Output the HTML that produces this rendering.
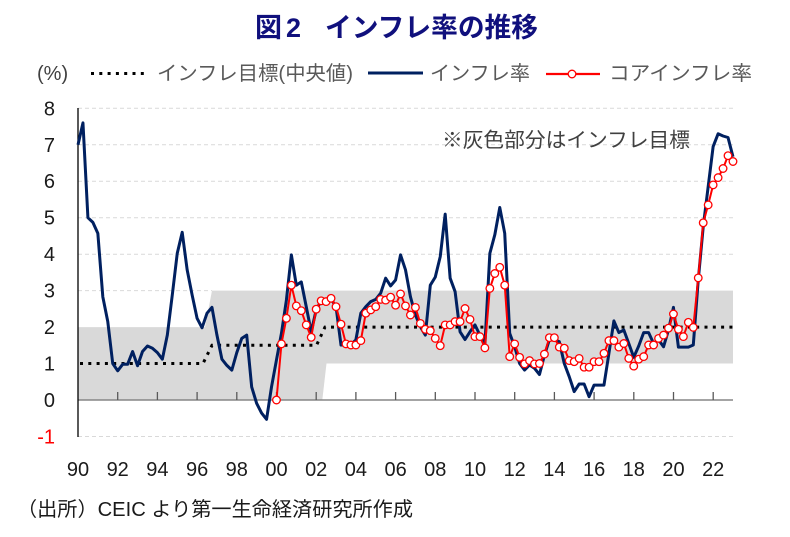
<!DOCTYPE html>
<html><head><meta charset="utf-8"><style>
html,body{margin:0;padding:0;background:#fff;}
svg{display:block;}
text{font-family:"Liberation Sans","Noto Sans CJK JP",sans-serif;}
</style></head><body>
<svg width="790" height="537" viewBox="0 0 790 537" xmlns="http://www.w3.org/2000/svg">
<defs>
<marker id="c" markerWidth="12" markerHeight="12" refX="6" refY="6" markerUnits="userSpaceOnUse" overflow="visible">
<circle cx="6" cy="6" r="3.8" fill="#fff" stroke="#ff0000" stroke-width="1.3"/>
</marker>
</defs>
<!-- title -->
<text x="255" y="37" font-size="27" font-weight="bold" fill="#10107d">図</text>
<text x="286" y="37" font-size="27" font-weight="bold" fill="#10107d">2</text>
<text x="325" y="37" font-size="27" font-weight="bold" fill="#10107d" textLength="213" lengthAdjust="spacingAndGlyphs">インフレ率の推移</text>
<!-- legend -->
<text x="37" y="80" font-size="20" fill="#404040">(%)</text>
<line x1="91" y1="73.5" x2="148" y2="73.5" stroke="#000" stroke-width="3" stroke-dasharray="3 5.3"/>
<text x="157" y="80" font-size="20" fill="#595959" textLength="196" lengthAdjust="spacingAndGlyphs">インフレ目標(中央値)</text>
<line x1="368" y1="73" x2="423" y2="73" stroke="#002060" stroke-width="3"/>
<text x="430" y="80" font-size="20" fill="#595959" textLength="100" lengthAdjust="spacingAndGlyphs">インフレ率</text>
<line x1="546" y1="74" x2="600" y2="74" stroke="#ff0000" stroke-width="2.2"/>
<circle cx="572" cy="74" r="3.8" fill="#fff" stroke="#ff0000" stroke-width="1.3"/>
<text x="609" y="80" font-size="20" fill="#595959" textLength="143" lengthAdjust="spacingAndGlyphs">コアインフレ率</text>
<!-- band -->
<polygon points="78,400 78,327.1 205,327.1 212,290.6 733,290.6 733,363.5 326.5,363.5 322.3,400" fill="#d9d9d9"/>
<!-- gridlines -->
<g stroke="#d9d9d9" stroke-width="1" stroke-dasharray="4 3">
<line x1="78" y1="108.3" x2="733" y2="108.3"/>
<line x1="78" y1="144.8" x2="733" y2="144.8"/>
<line x1="78" y1="181.2" x2="733" y2="181.2"/>
<line x1="78" y1="217.7" x2="733" y2="217.7"/>
<line x1="78" y1="254.2" x2="733" y2="254.2"/>
<line x1="78" y1="290.6" x2="212" y2="290.6"/>
<line x1="78" y1="436.5" x2="733" y2="436.5"/>
</g>
<!-- annotation -->
<text x="442" y="147" font-size="20.5" fill="#404040" textLength="248" lengthAdjust="spacingAndGlyphs">※灰色部分はインフレ目標</text>
<!-- target dotted -->
<polyline points="80,363.5 203,363.5 212,345.3 316.5,345.3 325,327.1 733,327.1" fill="none" stroke="#000" stroke-width="3" stroke-dasharray="3 5.3"/>
<!-- axes -->
<line x1="78" y1="400" x2="733" y2="400" stroke="#868686" stroke-width="1.5"/>
<line x1="78" y1="108" x2="78" y2="437" stroke="#000" stroke-width="1.3"/>
<g stroke="#595959" stroke-width="1.3">
<line x1="117.7" y1="392" x2="117.7" y2="400"/>
<line x1="157.4" y1="392" x2="157.4" y2="400"/>
<line x1="197.1" y1="392" x2="197.1" y2="400"/>
<line x1="236.8" y1="392" x2="236.8" y2="400"/>
<line x1="276.5" y1="392" x2="276.5" y2="400"/>
<line x1="316.2" y1="392" x2="316.2" y2="400"/>
<line x1="355.9" y1="392" x2="355.9" y2="400"/>
<line x1="395.6" y1="392" x2="395.6" y2="400"/>
<line x1="435.3" y1="392" x2="435.3" y2="400"/>
<line x1="475.0" y1="392" x2="475.0" y2="400"/>
<line x1="514.7" y1="392" x2="514.7" y2="400"/>
<line x1="554.4" y1="392" x2="554.4" y2="400"/>
<line x1="594.1" y1="392" x2="594.1" y2="400"/>
<line x1="633.8" y1="392" x2="633.8" y2="400"/>
<line x1="673.5" y1="392" x2="673.5" y2="400"/>
<line x1="713.2" y1="392" x2="713.2" y2="400"/>
</g>
<!-- y labels -->
<g font-size="20" fill="#1a1a1a" text-anchor="end">
<text x="55" y="115.3">8</text>
<text x="55" y="151.8">7</text>
<text x="55" y="188.2">6</text>
<text x="55" y="224.7">5</text>
<text x="55" y="261.2">4</text>
<text x="55" y="297.6">3</text>
<text x="55" y="334.1">2</text>
<text x="55" y="370.5">1</text>
<text x="55" y="407">0</text>
<text x="55" y="443.5" fill="#ff0000">-1</text>
</g>
<!-- x labels -->
<g font-size="20" fill="#1a1a1a" text-anchor="middle">
<text x="78" y="476">90</text>
<text x="117.7" y="476">92</text>
<text x="157.4" y="476">94</text>
<text x="197.1" y="476">96</text>
<text x="236.8" y="476">98</text>
<text x="276.5" y="476">00</text>
<text x="316.2" y="476">02</text>
<text x="355.9" y="476">04</text>
<text x="395.6" y="476">06</text>
<text x="435.3" y="476">08</text>
<text x="475.0" y="476">10</text>
<text x="514.7" y="476">12</text>
<text x="554.4" y="476">14</text>
<text x="594.1" y="476">16</text>
<text x="633.8" y="476">18</text>
<text x="673.5" y="476">20</text>
<text x="713.2" y="476">22</text>
</g>
<!-- blue series -->
<polyline fill="none" stroke="#002060" stroke-width="3" stroke-linejoin="round" points="78.0,144.8 82.96,122.9 87.92,217.7 92.89,222.4 97.85,233.4 102.81,296.8 107.77,321.6 112.73,363.5 117.70,370.8 122.66,364.3 127.62,364.3 132.58,351.5 137.54,365.7 142.51,351.5 147.47,346.0 152.43,348.2 157.39,352.6 162.35,359.2 167.32,335.1 172.28,295.0 177.24,253.4 182.20,232.3 187.16,269.8 192.13,295.0 197.09,318.3 202.05,327.8 207.01,313.2 211.97,307.4 216.94,335.1 221.90,359.2 226.86,365.4 231.82,370.1 236.78,352.6 241.75,338.4 246.71,335.1 251.67,386.9 256.63,403.3 261.59,413.1 266.56,419.3 271.52,386.9 276.48,359.9 281.44,333.3 286.40,300.1 291.37,254.9 296.33,285.2 301.29,281.9 306.25,306.7 311.21,331.8 316.18,309.9 321.14,300.8 326.10,300.1 331.06,299.0 336.02,306.7 340.99,345.0 345.95,345.0 350.91,345.0 355.87,339.8 360.83,313.2 365.80,306.7 370.76,301.6 375.72,299.4 380.68,293.2 385.64,278.2 390.61,285.9 395.57,280.0 400.53,254.9 405.49,269.8 410.45,296.8 415.42,315.0 420.38,326.7 425.34,335.1 430.30,285.2 435.26,277.1 440.23,256.7 445.19,214.1 450.15,278.2 455.11,291.7 460.07,331.8 465.04,339.5 470.00,331.8 474.96,324.9 479.92,335.1 484.88,345.0 489.85,253.4 494.81,234.8 499.77,207.5 504.73,233.4 509.69,333.3 514.66,346.8 519.62,363.5 524.58,370.1 529.54,365.0 534.50,368.3 539.47,374.5 544.43,355.2 549.39,339.8 554.35,339.8 559.31,341.7 564.28,363.5 569.24,376.7 574.20,391.6 579.16,384.0 584.12,384.0 589.09,396.7 594.05,385.1 599.01,385.1 603.97,385.1 608.93,353.3 613.90,320.9 618.86,332.6 623.82,330.0 628.78,343.5 633.74,357.3 638.71,346.0 643.67,332.6 648.63,332.6 653.59,343.5 658.55,339.8 663.52,346.8 668.48,330.0 673.44,307.4 678.40,347.1 683.36,347.1 688.33,347.1 693.29,345.0 698.25,280.0 703.21,226.8 708.17,186.7 713.14,146.6 718.10,133.8 723.06,136.0 728.02,137.5 732.98,156.8"/>
<!-- red series -->
<polyline fill="none" stroke="#ff0000" stroke-width="2" stroke-linejoin="round" marker-start="url(#c)" marker-mid="url(#c)" marker-end="url(#c)" points="276.48,400.0 281.44,343.9 286.40,318.3 291.37,285.2 296.33,305.9 301.29,310.7 306.25,324.9 311.21,337.3 316.18,309.2 321.14,300.8 326.10,301.6 331.06,298.3 336.02,306.7 340.99,324.2 345.95,343.9 350.91,345.0 355.87,345.0 360.83,340.6 365.80,313.2 370.76,309.9 375.72,306.7 380.68,299.4 385.64,300.1 390.61,297.2 395.57,305.2 400.53,293.9 405.49,305.9 410.45,315.0 415.42,307.4 420.38,323.4 425.34,329.3 430.30,330.7 435.26,338.4 440.23,345.7 445.19,324.9 450.15,324.9 455.11,321.6 460.07,321.6 465.04,308.5 470.00,319.4 474.96,336.6 479.92,336.6 484.88,347.9 489.85,288.4 494.81,273.5 499.77,267.3 504.73,285.2 509.69,356.6 514.66,343.9 519.62,357.3 524.58,363.9 529.54,360.6 534.50,363.9 539.47,363.5 544.43,354.1 549.39,337.7 554.35,337.7 559.31,347.1 564.28,348.2 569.24,360.6 574.20,361.7 579.16,358.4 584.12,367.2 589.09,367.2 594.05,361.7 599.01,361.7 603.97,353.3 608.93,340.6 613.90,340.6 618.86,347.1 623.82,343.5 628.78,358.4 633.74,366.1 638.71,359.2 643.67,356.6 648.63,345.0 653.59,345.0 658.55,338.4 663.52,335.1 668.48,328.2 673.44,314.0 678.40,329.3 683.36,336.6 688.33,322.3 693.29,327.4 698.25,277.9 703.21,222.8 708.17,204.9 713.14,184.9 718.10,177.6 723.06,168.5 728.02,155.7 732.98,161.5"/>
<!-- footnote -->
<text x="17" y="516" font-size="20" fill="#1a1a1a" textLength="396" lengthAdjust="spacingAndGlyphs">（出所）CEIC より第一生命経済研究所作成</text>
</svg>
</body></html>
